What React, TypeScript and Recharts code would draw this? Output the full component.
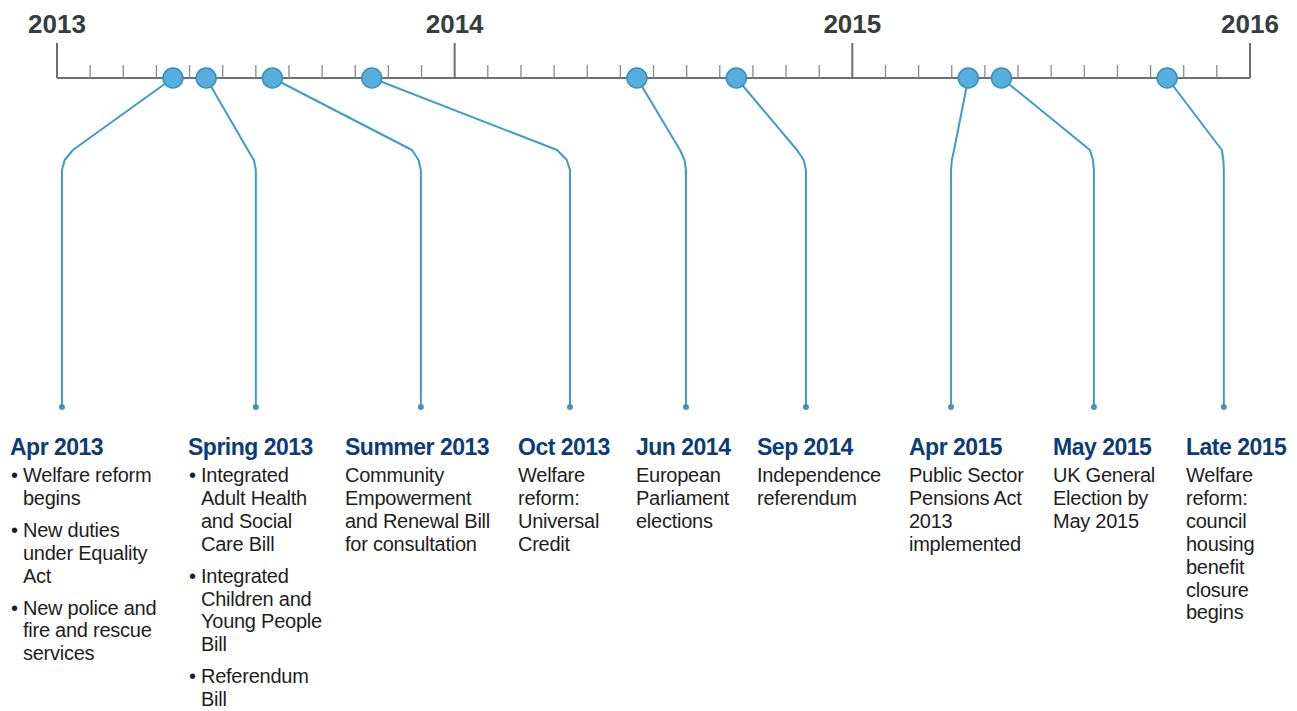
import React from 'react';
import { ComposedChart, XAxis, YAxis, Line, Scatter } from 'recharts';

// timeline runs Jan 2013 (0) to Jan 2016 (36), in months
const yearLabels = ['2013', '2014', '2015', '2016'];
const monthTicks = Array.from({ length: 37 }, (_, i) => i);

const eventTitles = ['Apr 2013', 'Spring 2013', 'Summer 2013', 'Oct 2013', 'Jun 2014', 'Sep 2014', 'Apr 2015', 'May 2015', 'Late 2015'];
const eventMonths = [3.5, 4.5, 6.5, 9.5, 17.5, 20.5, 27.5, 28.5, 33.5];
// where each connector bends and drops down to its label
const bendMonths = [0.48, 5.76, 10.71, 15.09, 18.8, 22.33, 27.07, 31.17, 35.15];
const dropMonths = [0.15, 6.0, 10.98, 15.48, 18.98, 22.6, 26.98, 31.29, 35.21];

const bulleted = [true, true, false, false, false, false, false, false, false];
const eventTexts: string[][][] = [
  [['Welfare reform', 'begins'], ['New duties', 'under Equality', 'Act'], ['New police and', 'fire and rescue', 'services']],
  [['Integrated', 'Adult Health', 'and Social', 'Care Bill'], ['Integrated', 'Children and', 'Young People', 'Bill'], ['Referendum', 'Bill']],
  [['Community', 'Empowerment', 'and Renewal Bill', 'for consultation']],
  [['Welfare', 'reform:', 'Universal', 'Credit']],
  [['European', 'Parliament', 'elections']],
  [['Independence', 'referendum']],
  [['Public Sector', 'Pensions Act', '2013', 'implemented']],
  [['UK General', 'Election by', 'May 2015']],
  [['Welfare', 'reform:', 'council', 'housing', 'benefit', 'closure', 'begins']],
];
const columnLeft = [2, 180, 337, 510, 628, 749, 901, 1045, 1178];

const W = 1289;
const H = 703;
const BEND_DEPTH = 72;
const ROUND_DEPTH = 82;
const DROP_DEPTH = 92;
const END_DEPTH = 329;

const LINE_BLUE = '#3d9ccb';
const TITLE_BLUE = '#0c3c78';

const AxisTick = (props: any) => {
  const { x, y, payload } = props;
  const v = payload.value;
  const isYear = v % 12 === 0;
  return (
    <g>
      <line x1={x} x2={x} y1={y} y2={y - (isYear ? 35 : 13)} stroke={isYear ? '#6f6f6f' : '#8a8a8a'} strokeWidth={isYear ? 2 : 1.3} />
      {isYear && (
        <text x={x} y={y - 45} textAnchor="middle" fontSize={26} fontWeight={700} fill="#353d3d"
          fontFamily="'Liberation Sans', Arial, sans-serif">
          {yearLabels[v / 12]}
        </text>
      )}
    </g>
  );
};

const BigDot = (props: any) => {
  const { cx, cy } = props;
  return <circle cx={cx} cy={cy} r={10} fill="#55aedb" stroke="#3590c0" strokeWidth={1.5} />;
};

const EndDot = (props: any) => {
  const { cx, cy } = props;
  return <circle cx={cx} cy={cy} r={3} fill="#4a93b8" />;
};

export default function App() {
  const dots = eventMonths.map(m => ({ m, d: 0 }));
  const ends = dropMonths.map(m => ({ m, d: END_DEPTH }));
  const connectors = eventMonths.map((m, i) => [
    { m, d: 0 },
    { m: bendMonths[i], d: BEND_DEPTH },
    { m: dropMonths[i] + (bendMonths[i] - dropMonths[i]) * 0.25, d: ROUND_DEPTH },
    { m: dropMonths[i], d: DROP_DEPTH },
    { m: dropMonths[i], d: END_DEPTH },
  ]);

  return (
    <div style={{ position: 'relative', width: W, height: H, fontFamily: "'Liberation Sans', Arial, sans-serif" }}>
      <ComposedChart width={W} height={H} margin={{ top: 0, right: 47, bottom: 33, left: 49 }}>
        <XAxis
          xAxisId={0}
          dataKey="m"
          type="number"
          orientation="top"
          domain={[0, 36]}
          ticks={monthTicks}
          interval={0}
          height={70}
          tickSize={0}
          tickMargin={0}
          tickLine={false}
          tick={<AxisTick />}
          axisLine={{ stroke: '#6f6f6f', strokeWidth: 2 }}
        />
        <YAxis yAxisId={0} dataKey="d" type="number" domain={[0, 600]} reversed hide />
        {connectors.map((pts, i) => (
          <Line
            key={`c-${i}`}
            data={pts}
            dataKey="d"
            type="linear"
            stroke={LINE_BLUE}
            strokeWidth={2}
            strokeLinejoin="round"
            dot={false}
            activeDot={false}
            isAnimationActive={false}
          />
        ))}
        <Scatter data={ends} dataKey="d" shape={<EndDot />} isAnimationActive={false} />
        <Scatter data={dots} dataKey="d" shape={<BigDot />} isAnimationActive={false} />
      </ComposedChart>

      {eventTitles.map((title, i) => (
        <div key={title} style={{ position: 'absolute', left: columnLeft[i], top: 426, whiteSpace: 'nowrap' }}>
          <div style={{ fontSize: 23, fontWeight: 700, color: TITLE_BLUE, lineHeight: '26px', letterSpacing: -0.5, marginBottom: 4 }}>
            {title}
          </div>
          {eventTexts[i].map((item, j) => (
            <div
              key={j}
              style={{
                position: 'relative',
                paddingLeft: bulleted[i] ? 13 : 0,
                marginBottom: 9,
                fontSize: 20,
                lineHeight: '22.9px',
                color: '#1e1e1e',
                letterSpacing: -0.25,
              }}
            >
              {bulleted[i] && <span style={{ position: 'absolute', left: 1 }}>•</span>}
              {item.map((ln, k) => (
                <div key={k}>{ln}</div>
              ))}
            </div>
          ))}
        </div>
      ))}
    </div>
  );
}
